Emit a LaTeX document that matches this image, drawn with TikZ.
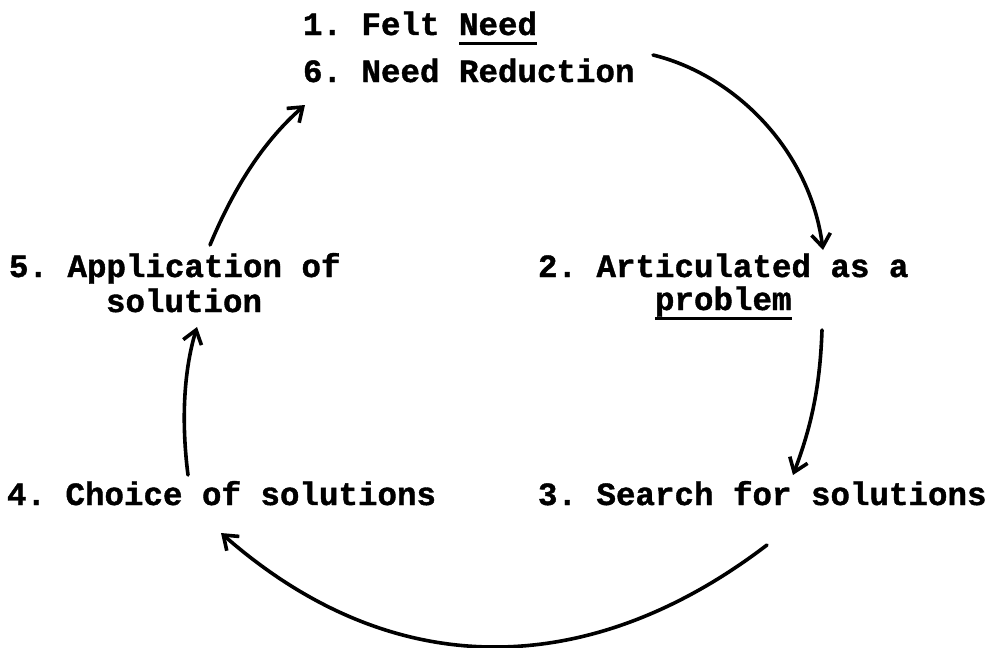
\documentclass[tikz,border=0pt]{standalone}
\usepackage{fontspec}
\newfontfamily\typew[BoldFont={Liberation Mono Bold},BoldFeatures={FakeBold=1.2}]{Liberation Mono}
\usetikzlibrary{arrows.meta}
\frenchspacing
\newcommand\myul[1]{\setbox0\hbox{#1}\rlap{\rule[-10pt]{\wd0}{2.8pt}}\box0}
\begin{document}
\begin{tikzpicture}[x=1pt,y=-1pt,
  lbl/.style={anchor=base west,inner sep=0pt,outer sep=0pt,font=\typew\bfseries\fontsize{32.5}{36}\selectfont},
  flow/.style={line width=3.6pt,line cap=round,-{Straight Barb[length=13pt,width=19pt,line width=3.6pt]}}]
\useasboundingbox (0,0) rectangle (994,648);
\node[lbl] (felt) at (303,35) {1. Felt \myul{Need}};
\node[lbl] (reduc) at (303,82) {6. Need Reduction};
\node[lbl] (appl) at (9,277) {5. Application of};
\node[lbl] (appl2) at (106,312) {solution};
\node[lbl] (artic) at (538,277) {2. Articulated as a};
\node[lbl] (artic2) at (655,310) {\myul{problem}};
\node[lbl] (choice) at (7,505) {4. Choice of solutions};
\node[lbl] (search) at (538,505) {3. Search for solutions};
\coordinate (a1s) at (653,55);
\coordinate (a1e) at (823,250);
\coordinate (a2s) at (822,330);
\coordinate (a2e) at (793,475);
\coordinate (a3s) at (767,545);
\coordinate (a3e) at (221,533);
\coordinate (a4s) at (188,475);
\coordinate (a4e) at (197,327);
\coordinate (a5s) at (210,245);
\coordinate (a5e) at (305,105);
\draw[flow] (a1s) .. controls (735,75) and (810,150) .. (a1e);
\draw[flow] (a2s) .. controls (820,390) and (810,430) .. (a2e);
\draw[flow] (a3s) .. controls (597,675) and (400,690) .. (a3e);
\draw[flow] (a4s) .. controls (181,420) and (184,370) .. (a4e);
\draw[flow] (a5s) .. controls (235,185) and (265,140) .. (a5e);
\end{tikzpicture}
\end{document}
